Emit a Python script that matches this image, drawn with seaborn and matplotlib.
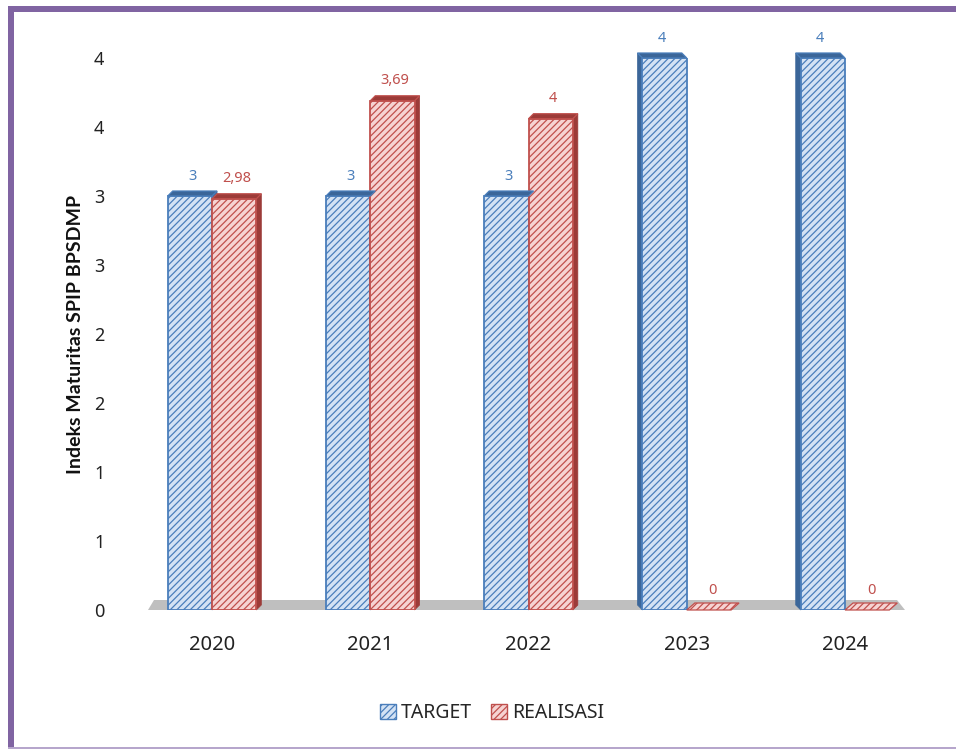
import numpy as np
import pandas as pd
import matplotlib
matplotlib.use("Agg")
import matplotlib.pyplot as plt
from matplotlib.patches import Polygon, Rectangle, Patch
import seaborn as sns

# ---- data ----
years = ["2020", "2021", "2022", "2023", "2024"]
target = [3.0, 3.0, 3.0, 4.0, 4.0]
realisasi = [2.98, 3.69, 3.56, 0.0, 0.0]
target_labels = ["3", "3", "3", "4", "4"]
realisasi_labels = ["2,98", "3,69", "4", "0", "0"]
series = ["TARGET", "REALISASI"]
yticks = [0, 0.5, 1, 1.5, 2, 2.5, 3, 3.5, 4]
ytick_labels = ["0", "1", "1", "2", "2", "3", "3", "4", "4"]
ylabel = "Indeks Maturitas SPIP BPSDMP"

df = pd.DataFrame({
    "Tahun": years * 2,
    "Nilai": target + realisasi,
    "Seri": [series[0]] * len(years) + [series[1]] * len(years),
})

sns.set_theme(style="white")
plt.rcParams["font.family"] = ["Noto Sans", "DejaVu Sans"]
plt.rcParams["hatch.linewidth"] = 0.9

W, H = 956, 749
fig = plt.figure(figsize=(W / 100, H / 100), dpi=100)
fig.patch.set_facecolor("white")
ax_l, ax_r, ax_t, ax_b = 150, 905, 58, 610
ax = fig.add_axes([ax_l / W, 1 - ax_b / H, (ax_r - ax_l) / W, (ax_b - ax_t) / H])

blue_face, blue_edge, blue_dark = "#d3e2f4", "#4a7ebb", "#3b6699"
red_face, red_edge, red_dark = "#f6d3d2", "#c0504d", "#9c3b38"

sns.barplot(data=df, x="Tahun", y="Nilai", hue="Seri", hue_order=series,
            palette=[blue_face, red_face], width=0.56, saturation=1,
            legend=False, ax=ax, zorder=3)
x0, x1 = -0.392, 4.379
ax.set_xlim(x0, x1)
ax.set_ylim(0, 4.0)

# pixel -> data conversion
sx = (x1 - x0) / (ax_r - ax_l)
sy = 4.0 / (ax_b - ax_t)

# floor
floor = Polygon([(x0 - 2 * sx, 0), (x1, 0), (x1 - 8 * sx, 10 * sy), (x0 + 4 * sx, 10 * sy)],
                closed=True, facecolor="#bfbfbf", edgecolor="none", zorder=1, clip_on=False)
ax.add_patch(floor)

styles = [(blue_face, blue_edge, blue_dark), (red_face, red_edge, red_dark)]
label_sets = [target_labels, realisasi_labels]
for ci, cont in enumerate(ax.containers):
    face, edge, dark = styles[ci]
    for i, bar in enumerate(cont.patches):
        bar.set_facecolor(face)
        bar.set_edgecolor(edge)
        bar.set_hatch("/////")
        bar.set_linewidth(1.3)
        x, w, h = bar.get_x(), bar.get_width(), bar.get_height()
        d = 5 if i <= 2 else -5
        dx, dy = d * sx, 5 * sy
        if h == 0:
            dx, dy = 8 * sx, 7 * sy
        # top face
        top = Polygon([(x, h), (x + w, h), (x + w + dx, h + dy), (x + dx, h + dy)],
                      closed=True, facecolor=dark if h > 0 else face, edgecolor=edge, lw=0.9,
                      hatch="/////" if h == 0 else None, zorder=4, clip_on=False)
        ax.add_patch(top)
        # side face
        if h > 0:
            sxp = x + w if d > 0 else x
            side = Polygon([(sxp, 0), (sxp + dx, dy), (sxp + dx, h + dy), (sxp, h)],
                           closed=True, facecolor=dark, edgecolor=dark, lw=0.5,
                           zorder=2.5, clip_on=False)
            ax.add_patch(side)
        ax.text(x + w / 2 + dx / 2, h + 20 * sy, label_sets[ci][i],
                ha="center", va="center", fontsize=10.5, color=edge, clip_on=False)

for s in ax.spines.values():
    s.set_visible(False)
ax.set_yticks(yticks)
ax.set_yticklabels(ytick_labels, fontsize=13, color="#222222")
ax.tick_params(axis="y", length=0, pad=33)
ax.tick_params(axis="x", length=0, pad=18, labelsize=14.5, labelcolor="#222222")
ax.set_xlabel("")
ax.set_ylabel(ylabel, fontsize=14, fontweight="bold", color="#111111",
              family=["Lato", "DejaVu Sans"])
ax.yaxis.set_label_coords((84 - ax_l) / (ax_r - ax_l), 0.5)
ax.grid(False)
ax.set_facecolor("none")

handles = [Patch(facecolor=blue_face, edgecolor=blue_edge, hatch="/////"),
           Patch(facecolor=red_face, edgecolor=red_edge, hatch="/////")]
fig.legend(handles, series, loc="center", bbox_to_anchor=(492 / W, 1 - 713 / H),
           ncol=2, frameon=False, handlelength=0.8, handleheight=0.8,
           handletextpad=0.25, columnspacing=1.0, fontsize=14)

# purple frame
purple = "#8064a2"
fig.add_artist(Rectangle((8 / W, 0), 6 / W, 1 - 6 / H, transform=fig.transFigure,
                         facecolor=purple, edgecolor="none"))
fig.add_artist(Rectangle((8 / W, 1 - 12 / H), 1, 6 / H, transform=fig.transFigure,
                         facecolor=purple, edgecolor="none"))
fig.add_artist(Rectangle((8 / W, 0), 1, 2 / H, transform=fig.transFigure,
                         facecolor="#b6a6cc", edgecolor="none"))

fig.savefig("out.png", dpi=100)
